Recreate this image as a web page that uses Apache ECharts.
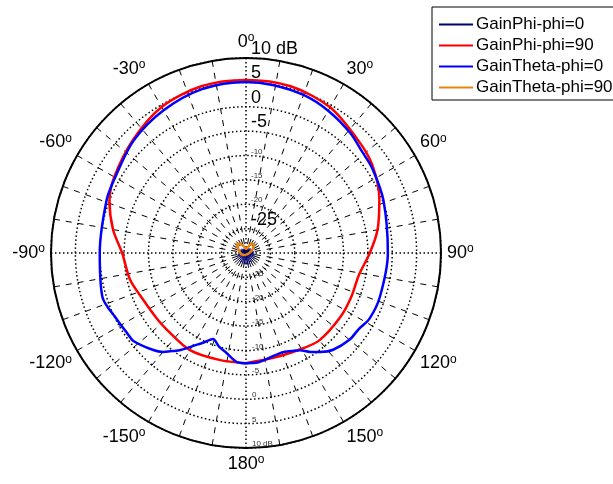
<!DOCTYPE html>
<html>
<head>
<meta charset="utf-8">
<script src="https://cdn.jsdelivr.net/npm/echarts@6/dist/echarts.min.js"></script>
<style>html,body{margin:0;padding:0;background:#fff}#c{width:613px;height:484px}</style>
</head>
<body>
<div id="c"></div>
<script>
// ---- data (dB vs angle in degrees) ----
var seriesNames = ['GainPhi-phi=0', 'GainPhi-phi=90', 'GainTheta-phi=0', 'GainTheta-phi=90'];
var angleTicks = [-150, -120, -90, -60, -30, 0, 30, 60, 90, 120, 150, 180];
var radiusTicks = [-30, -25, -20, -15, -10, -5, 0, 5, 10];

// GainPhi-phi=0 : tiny noisy pattern at the centre
var phi0Angles = [-180,-175,-170,-165,-160,-155,-150,-145,-140,-135,-130,-125,-120,-115,-110,-105,-100,-95,-90,-85,-80,-75,-70,-65,-60,-55,-50,-45,-40,-35,-30,-25,-20,-15,-10,-5,0,5,10,15,20,25,30,35,40,45,50,55,60,65,70,75,80,85,90,95,100,105,110,115,120,125,130,135,140,145,150,155,160,165,170,175,180];
var phi0Values = [-27.6,-29.9,-27.7,-29.8,-27.9,-30,-27.8,-29.9,-28.0,-29.8,-28.1,-30,-28.2,-29.9,-28.0,-29.8,-28.3,-30,-28.4,-29.9,-28.5,-29.7,-28.6,-30,-28.7,-29.8,-28.8,-29.9,-28.9,-30,-29.0,-29.8,-29.1,-29.9,-29.2,-30,-29.3,-29.9,-29.1,-30,-29.0,-29.8,-28.9,-30,-28.8,-29.9,-28.7,-29.8,-28.6,-30,-28.5,-29.9,-28.4,-29.8,-28.3,-30,-28.2,-29.9,-28.1,-29.8,-28.0,-30,-27.9,-29.9,-27.8,-29.8,-27.8,-30,-27.7,-29.9,-27.6,-29.8,-27.6];

// GainPhi-phi=90 (red)
var phi90Angles = [-180,-166,-150,-134,-127,-114,-103,-90,-80,-69,-60,-45,-30,-15,0,15,30,45,55,68,80,90,101,113,124,140,152,166,180];
var phi90Values = [-7.4,-7.4,-7.0,-7.4,-7.3,-6.8,-5.6,-4.6,-2.3,0.0,1.2,2.8,4.6,5.4,5.5,5.4,4.5,2.6,1.6,-0.5,-2.6,-4.6,-6.4,-6.6,-6.6,-6.6,-7.4,-7.8,-7.4];

// GainTheta-phi=0 (blue)
var theta0Angles = [-180,-175,-169,-164,-159,-155,-152,-146,-143,-140,-136,-128,-124,-117,-107,-90,-69,-60,-45,-30,-15,0,9,20,30,41,49,56,69,90,108,118,124,130,138,143,147,151,155,160,167,174,180];
var theta0Values = [-7.4,-7.6,-9.1,-10.0,-11.1,-9.8,-8.7,-6.0,-4.8,-3.5,-2.4,-0.7,-0.6,-0.2,0.8,0.0,0.6,1.0,2.6,3.8,4.8,5.1,4.9,4.5,3.7,2.6,1.6,1.2,0.2,-0.9,-1.1,-1.3,-2.1,-2.3,-3.3,-4.6,-5.8,-7.2,-7.8,-8.3,-8.0,-7.4,-7.4];

// GainTheta-phi=90 (orange)
var theta90Angles = [-180,-165,-150,-135,-120,-105,-90,-75,-60,-45,-30,-15,0,15,30,45,60,75,90,105,120,135,150,165,180];
var theta90Values = [-29.6,-29.6,-29.5,-29.4,-29.2,-29.0,-28.9,-28.6,-28.0,-27.4,-27.8,-28.7,-29.2,-28.8,-27.7,-27.7,-28.4,-29.0,-29.3,-29.5,-29.6,-29.7,-29.7,-29.7,-29.6];

function pairs(vals, angs) { return vals.map(function (v, i) { return [v, angs[i]]; }); }

var FONT = 'Liberation Sans, Arial, sans-serif';
var C = [246, 253], R = 195;
var bigTop = { '10': 1, '5': 1, '0': 1, '-5': 1, '-25': 1 };

var chart = echarts.init(document.getElementById('c'), null, { renderer: 'canvas' });
chart.setOption({
  animation: false,
  backgroundColor: '#fff',
  textStyle: { fontFamily: FONT },
  legend: {
    orient: 'vertical', left: 432, top: 7,
    data: seriesNames,
    itemWidth: 34, itemHeight: 12, itemGap: 4,
    padding: [9, 50, 4, 6],
    borderColor: '#000', borderWidth: 1, backgroundColor: '#fff',
    itemStyle: { opacity: 0 },
    textStyle: { fontFamily: FONT, fontSize: 17, color: '#000', padding: [0, 0, 0, -2] }
  },
  polar: [
    { center: C, radius: R },
    { center: C, radius: R },
    { center: C, radius: R }
  ],
  angleAxis: [
    {
      polarIndex: 0, type: 'value', min: -180, max: 180, interval: 30,
      startAngle: 270, clockwise: true,
      axisLine: { show: true, lineStyle: { color: '#000', width: 2 } },
      axisTick: { show: false },
      splitLine: { show: false },
      axisLabel: {
        margin: 6, color: '#000', align: 'center', verticalAlign: 'middle',
        formatter: function (v) {
          if (v === 180) return '';
          return '{n|' + (v === -180 ? 180 : v) + '}{s|o}';
        },
        rich: {
          n: { fontSize: 18, fontFamily: FONT, color: '#000', lineHeight: 20 },
          s: { fontSize: 12, fontFamily: FONT, color: '#000', verticalAlign: 'top', lineHeight: 12 }
        }
      }
    },
    {
      polarIndex: 1, type: 'value', min: 0, max: 360, interval: 10,
      startAngle: 90, clockwise: true,
      axisLine: { show: false }, axisTick: { show: false }, axisLabel: { show: false },
      splitLine: { show: true, lineStyle: { color: ['rgba(0,0,0,0)', '#000', '#000', '#000', '#000', '#000', '#000', '#000', '#000'], width: 1, type: [6, 6] } }
    },
    {
      polarIndex: 2, type: 'value', min: 0, max: 360, interval: 90,
      startAngle: 90, clockwise: true,
      axisLine: { show: false }, axisTick: { show: false }, axisLabel: { show: false },
      splitLine: { show: true, lineStyle: { color: '#000', width: 1.5, type: [1.5, 2.5] } }
    }
  ],
  radiusAxis: [
    {
      polarIndex: 0, type: 'value', min: -30, max: 10, interval: 5,
      axisLine: { show: false }, axisTick: { show: false },
      splitLine: { show: true, lineStyle: { color: '#000', width: 1.5, type: [1.5, 2.5] } },
      axisLabel: {
        show: true, color: '#333', fontSize: 8, fontFamily: FONT, verticalAlign: 'bottom', align: 'left', margin: 6,
        formatter: function (v) { return v === -30 ? '' : (v === 10 ? '10 dB' : String(v)); }
      }
    },
    {
      polarIndex: 1, type: 'value', min: -30, max: 10, interval: 5,
      axisLine: { show: false }, axisTick: { show: false }, splitLine: { show: false },
      axisLabel: {
        show: true, color: '#000', align: 'left', verticalAlign: 'bottom', margin: -5,
        formatter: function (v) {
          if (v === -30) return '';
          var t = v === 10 ? '10 dB' : String(v);
          return bigTop[String(v)] ? '{b|' + t + '}' : '{m|' + t + '}';
        },
        rich: {
          b: { fontSize: 18, fontFamily: FONT, color: '#000' },
          m: { fontSize: 8, fontFamily: FONT, color: '#333' }
        }
      }
    },
    {
      polarIndex: 2, type: 'value', min: -30, max: 10, interval: 5,
      axisLine: { show: false }, axisTick: { show: false }, splitLine: { show: false }, axisLabel: { show: false }
    }
  ],
  series: [
    { name: seriesNames[0], type: 'line', coordinateSystem: 'polar', polarIndex: 0, symbol: 'none',
      lineStyle: { color: '#000070', width: 0.8 }, itemStyle: { color: '#000070' }, z: 5,
      data: pairs(phi0Values, phi0Angles) },
    { name: seriesNames[1], type: 'line', coordinateSystem: 'polar', polarIndex: 0, symbol: 'none', smooth: 0.3,
      lineStyle: { color: '#ff0000', width: 2.5 }, itemStyle: { color: '#ff0000' }, z: 6,
      data: pairs(phi90Values, phi90Angles) },
    { name: seriesNames[2], type: 'line', coordinateSystem: 'polar', polarIndex: 0, symbol: 'none', smooth: 0.3,
      lineStyle: { color: '#0000ff', width: 2.5 }, itemStyle: { color: '#0000ff' }, z: 7,
      data: pairs(theta0Values, theta0Angles) },
    { name: seriesNames[3], type: 'line', coordinateSystem: 'polar', polarIndex: 0, symbol: 'none',
      lineStyle: { color: '#e8850f', width: 2.5 }, itemStyle: { color: '#e8850f' }, z: 8,
      data: pairs(theta90Values, theta90Angles) }
  ]
});
</script>
</body>
</html>
